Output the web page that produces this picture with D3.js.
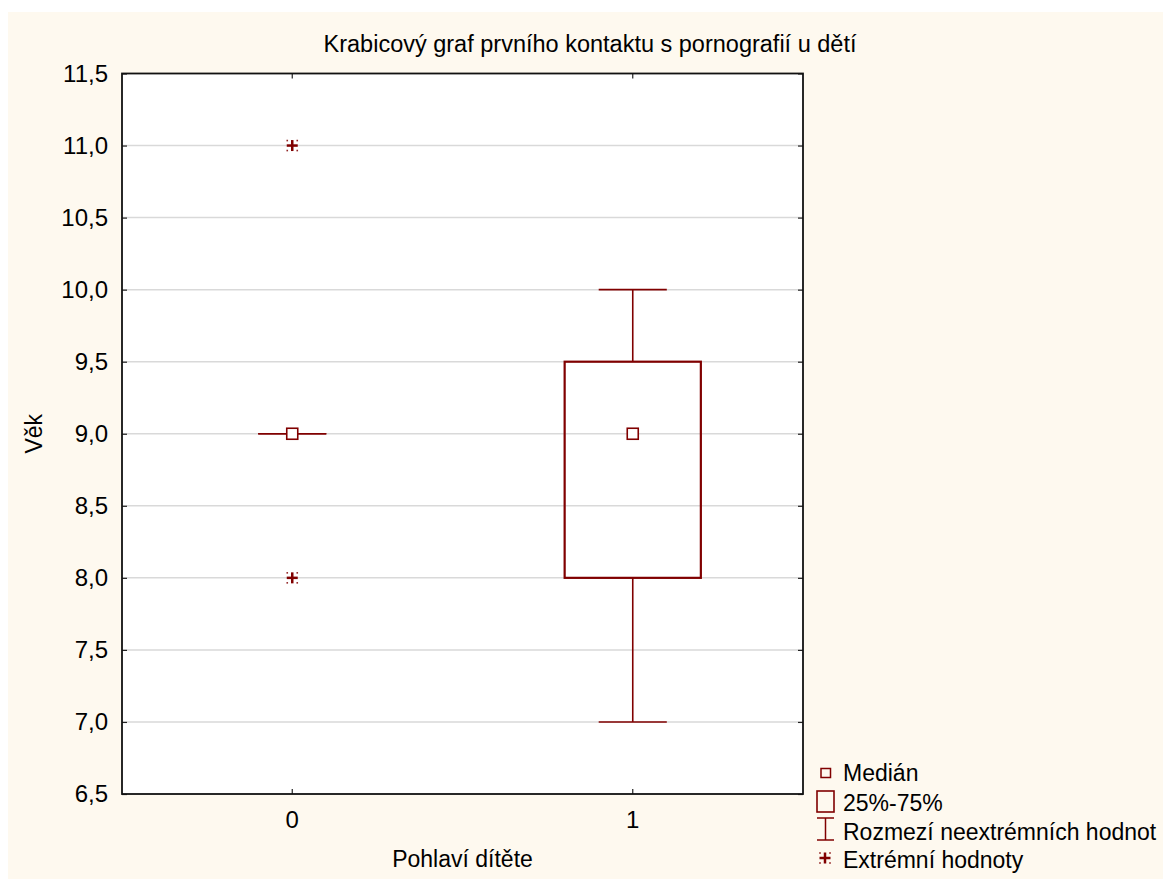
<!DOCTYPE html>
<html>
<head>
<meta charset="utf-8">
<script src="https://cdn.jsdelivr.net/npm/d3@7"></script>
<style>
  body { margin: 0; background: #fff; }
  svg text { font-family: "Liberation Sans", Arial, sans-serif; fill: #000; }
</style>
</head>
<body>
<svg id="chart" width="1163" height="879"></svg>
<script>
    // data
    var categories = ['0', '1'];
    var medians = [9, 9];
    var q1 = [9, 8];
    var q3 = [9, 9.5];
    var whiskerLow = [9, 7];
    var whiskerHigh = [9, 10];
    var extremes = [[11, 8], []];
    var yTicks = [6.5, 7, 7.5, 8, 8.5, 9, 9.5, 10, 10.5, 11, 11.5];
    var legendLabels = ['Medián', '25%-75%', 'Rozmezí neextrémních hodnot', 'Extrémní hodnoty'];

    var color = '#800000';
    var margin = {left: 122, right: 803, top: 73.5, bottom: 794};
    var svg = d3.select('#chart');

    //cream panel
    svg.append('rect')
        .attr('x', 8).attr('y', 12)
        .attr('width', 1163 - 8).attr('height', 879 - 12)
        .attr('fill', '#fef9ef');

    //plot area
    svg.append('rect')
        .attr('x', margin.left).attr('y', margin.top)
        .attr('width', margin.right - margin.left)
        .attr('height', margin.bottom - margin.top)
        .attr('fill', '#fff');

    var x = d3.scaleBand().domain(categories).range([margin.left, margin.right]);
    var y = d3.scaleLinear().domain([6.5, 11.5]).range([margin.bottom, margin.top]);
    var fmt = function (d) { return d3.format('.1f')(d).replace('.', ','); };

    //grid
    svg.append('g').selectAll('line')
        .data(yTicks.slice(1, -1))
        .enter().append('line')
        .attr('x1', margin.left).attr('x2', margin.right)
        .attr('y1', function (d) { return y(d); })
        .attr('y2', function (d) { return y(d); })
        .attr('stroke', '#d9d9d9')
        .attr('stroke-width', 1.5);

    //axes, ticks inside
    var yAxis = svg.append('g')
        .attr('transform', 'translate(' + margin.left + ',0)')
        .call(d3.axisLeft(y).tickValues(yTicks).tickFormat(fmt).tickSize(-5).tickPadding(14));
    svg.append('g')
        .attr('transform', 'translate(' + margin.right + ',0)')
        .call(d3.axisRight(y).tickValues(yTicks).tickFormat('').tickSize(-5));
    var xAxis = svg.append('g')
        .attr('transform', 'translate(0,' + margin.bottom + ')')
        .call(d3.axisBottom(x).tickSize(-5).tickPadding(17));
    svg.append('g')
        .attr('transform', 'translate(0,' + margin.top + ')')
        .call(d3.axisTop(x).tickFormat('').tickSize(-5));

    svg.selectAll('.domain').remove();
    svg.selectAll('.tick line').attr('stroke', '#222').attr('stroke-width', 1.2);
    yAxis.selectAll('text').style('font-size', '24px').attr('fill', '#000');
    xAxis.selectAll('text').style('font-size', '24px').attr('fill', '#000');

    //frame
    svg.append('rect')
        .attr('x', margin.left).attr('y', margin.top)
        .attr('width', margin.right - margin.left)
        .attr('height', margin.bottom - margin.top)
        .attr('fill', 'none')
        .attr('stroke', '#111')
        .attr('stroke-width', 1.8);

    function drawAsterisk(g, cx, cy) {
        g.append('line').attr('x1', cx - 5.5).attr('x2', cx + 5.5).attr('y1', cy).attr('y2', cy)
            .attr('stroke', color).attr('stroke-width', 2.5);
        g.append('line').attr('x1', cx).attr('x2', cx).attr('y1', cy - 5.5).attr('y2', cy + 5.5)
            .attr('stroke', color).attr('stroke-width', 2.5);
        [[-5, -5], [5, -5], [-5, 5], [5, 5]].forEach(function (o) {
            g.append('rect')
                .attr('x', cx + o[0] - 0.8).attr('y', cy + o[1] - 0.8)
                .attr('width', 1.6).attr('height', 1.6)
                .attr('fill', color).attr('opacity', 0.85);
        });
    }

    //boxes
    var bw = x.bandwidth();
    categories.forEach(function (c, i) {
        var cx = x(c) + bw / 2;
        var g = svg.append('g');
        var capW = bw * 0.2, boxW = bw * 0.4;

        //whiskers
        g.append('line')
            .attr('x1', cx).attr('x2', cx)
            .attr('y1', y(whiskerHigh[i])).attr('y2', y(q3[i]))
            .attr('stroke', color).attr('stroke-width', 1.6);
        g.append('line')
            .attr('x1', cx).attr('x2', cx)
            .attr('y1', y(q1[i])).attr('y2', y(whiskerLow[i]))
            .attr('stroke', color).attr('stroke-width', 1.6);
        [whiskerLow[i], whiskerHigh[i]].forEach(function (v) {
            g.append('line')
                .attr('x1', cx - capW / 2).attr('x2', cx + capW / 2)
                .attr('y1', y(v)).attr('y2', y(v))
                .attr('stroke', color).attr('stroke-width', 1.6);
        });

        //box (skip when it collapses)
        if (q3[i] > q1[i]) {
            g.append('rect')
                .attr('x', cx - boxW / 2).attr('y', y(q3[i]))
                .attr('width', boxW).attr('height', y(q1[i]) - y(q3[i]))
                .attr('fill', 'none')
                .attr('stroke', color).attr('stroke-width', 2.2);
        }

        //median
        g.append('rect')
            .attr('x', cx - 5.5).attr('y', y(medians[i]) - 5.5)
            .attr('width', 11).attr('height', 11)
            .attr('fill', '#fff')
            .attr('stroke', color).attr('stroke-width', 1.6);

        extremes[i].forEach(function (v) {
            drawAsterisk(g, cx, y(v));
        });
    });

    //title and axis labels
    svg.append('text')
        .attr('x', 590).attr('y', 52)
        .attr('text-anchor', 'middle')
        .style('font-size', '23.5px')
        .text('Krabicový graf prvního kontaktu s pornografií u dětí');
    svg.append('text')
        .attr('x', (margin.left + margin.right) / 2).attr('y', 867)
        .attr('text-anchor', 'middle')
        .style('font-size', '23px')
        .text('Pohlaví dítěte');
    svg.append('text')
        .attr('transform', 'translate(42,' + (margin.top + margin.bottom) / 2 + ') rotate(-90)')
        .attr('text-anchor', 'middle')
        .style('font-size', '23px')
        .text('Věk');

    //legend
    var lg = svg.append('g');
    var rowY = [781, 811, 840, 868];
    lg.append('rect').attr('x', 821).attr('y', 768.5).attr('width', 9.5).attr('height', 9)
        .attr('fill', 'none').attr('stroke', color).attr('stroke-width', 1.5);
    lg.append('rect').attr('x', 817).attr('y', 791).attr('width', 17).attr('height', 21)
        .attr('fill', 'none').attr('stroke', color).attr('stroke-width', 1.6);
    lg.append('line').attr('x1', 817).attr('x2', 834).attr('y1', 818).attr('y2', 818)
        .attr('stroke', color).attr('stroke-width', 1.5);
    lg.append('line').attr('x1', 817).attr('x2', 834).attr('y1', 840).attr('y2', 840)
        .attr('stroke', color).attr('stroke-width', 1.5);
    lg.append('line').attr('x1', 825.5).attr('x2', 825.5).attr('y1', 818).attr('y2', 840)
        .attr('stroke', color).attr('stroke-width', 1.5);
    drawAsterisk(lg, 825, 858);
    legendLabels.forEach(function (t, i) {
        lg.append('text')
            .attr('x', 843).attr('y', rowY[i])
            .style('font-size', '23px')
            .text(t);
    });
</script>
</body>
</html>
